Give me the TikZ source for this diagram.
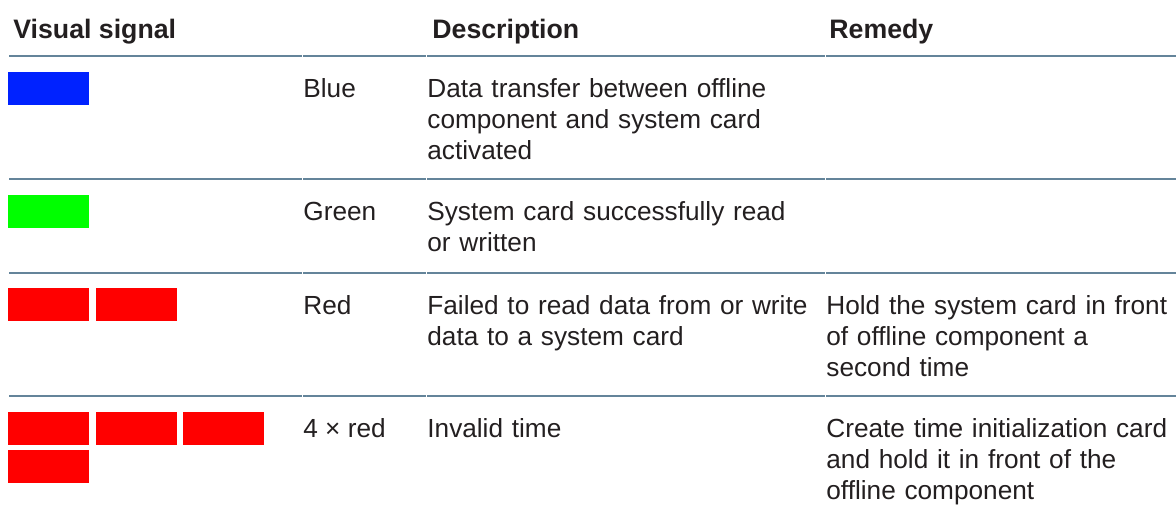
\documentclass[tikz,border=0pt]{standalone}
\usepackage{fontspec}
\setmainfont{Liberation Sans}

\definecolor{rulecol}{RGB}{100,132,154}
\definecolor{ink}{RGB}{35,31,32}
\definecolor{ledblue}{RGB}{0,34,255}
\definecolor{ledgreen}{RGB}{0,255,0}
\definecolor{ledred}{RGB}{255,0,0}

\tikzstyle{head} = [anchor=base west, inner sep=0pt, text=ink,
                    font=\bfseries\fontsize{13.35}{15.5}\selectfont]
\tikzstyle{cell} = [anchor=base west, inner sep=0pt, text=ink, align=left,
                    font=\fontsize{13.1}{15.5}\selectfont]
\tikzstyle{desc} = [cell, text width=196pt]
\tikzstyle{lamp} = [rectangle, anchor=north west, inner sep=0pt,
                    minimum width=40.5pt, minimum height=16.5pt]
\tikzstyle{sep} = [draw=rulecol, line width=1pt]

\begin{document}
\begin{tikzpicture}[x=0.5pt, y=-0.5pt]
  \useasboundingbox (0,0) rectangle (1176,509);

  %% Header
  \node (hsignal) [head] at (13,38) {Visual signal};
  \node (hdesc)   [head] at (432,38) {Description};
  \node (hremedy) [head] at (829,38) {Remedy};

  %% Rules under header and rows
  \foreach \y in {56,179,273,396} {
    \draw [sep] (9,\y) -- (302,\y);
    \draw [sep] (303,\y) -- (426,\y);
    \draw [sep] (427,\y) -- (825,\y);
    \draw [sep] (826,\y) -- (1176,\y);
  }

  %% Blue
  \node (blue) [lamp, fill=ledblue] at (8,72) {};
  \node (lblue) [cell] at (303,97) {Blue};
  \node (dblue) [desc] at (427,97) {Data transfer between offline\\
    component and system card\\ activated};

  %% Green
  \node (green) [lamp, fill=ledgreen] at (8,195) {};
  \node (lgreen) [cell] at (303,220) {Green};
  \node (dgreen) [desc] at (427,220) {System card successfully read\\
    or written};

  %% Red
  \node (redA) [lamp, fill=ledred] at (8,288) {};
  \node (redB) [lamp, fill=ledred] at (96,288) {};
  \node (lred) [cell] at (303,314) {Red};
  \node (dred) [desc] at (427,314) {Failed to read data from or write\\
    data to a system card};
  \node (rred) [desc] at (826,314) {Hold the system card in front\\
    of offline component a\\ second time};

  %% 4 x red
  \foreach \x [count=\i] in {8,96,183} {
    \node (four\i) [lamp, fill=ledred] at (\x,412) {};
  }
  \node (four4) [lamp, fill=ledred] at (8,450) {};
  \node (lfour) [cell] at (303,437) {4 × red};
  \node (dfour) [desc] at (427,437) {Invalid time};
  \node (rfour) [desc] at (826,437) {Create time initialization card\\
    and hold it in front of the\\ offline component};
\end{tikzpicture}
\end{document}
